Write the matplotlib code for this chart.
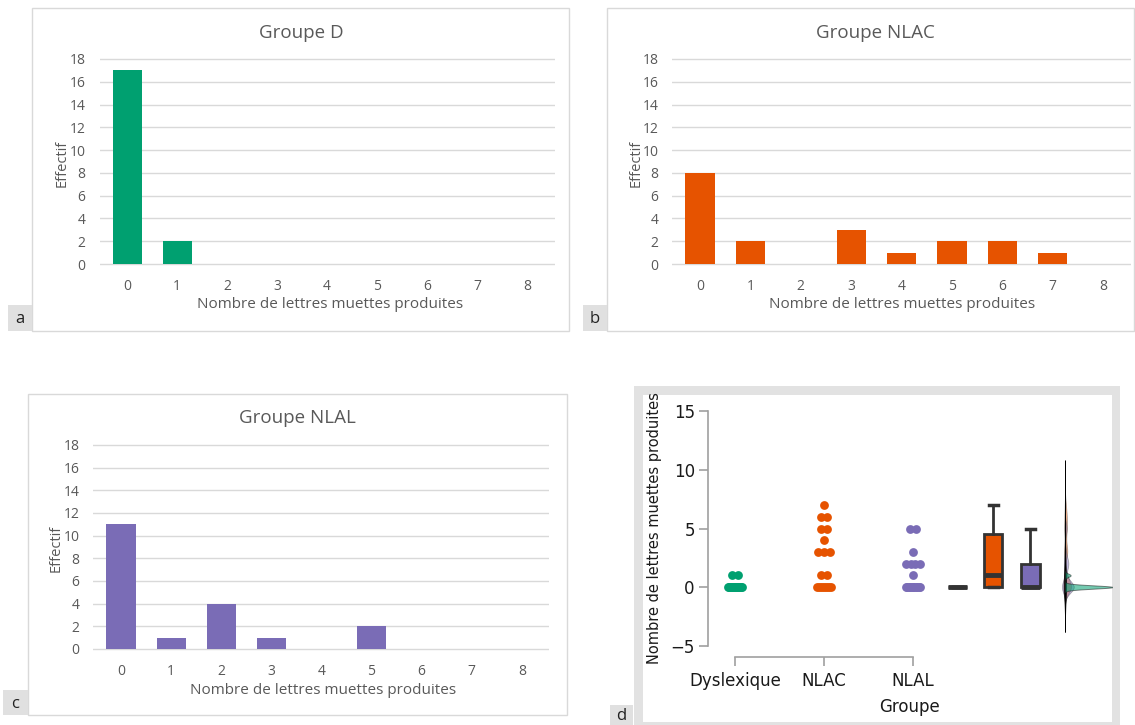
import numpy as np
import matplotlib
matplotlib.use("Agg")
import matplotlib.pyplot as plt
from matplotlib.patches import Rectangle

# ---------------- data ----------------
values = [0, 1, 2, 3, 4, 5, 6, 7, 8]
count_D = [17, 2, 0, 0, 0, 0, 0, 0, 0]
count_NLAC = [8, 2, 0, 3, 1, 2, 2, 1, 0]
count_NLAL = [11, 1, 4, 1, 0, 2, 0, 0, 0]
groups = ["Dyslexique", "NLAC", "NLAL"]
hist_titles = ["Groupe D", "Groupe NLAC", "Groupe NLAL"]
panel_letters = ["a", "b", "c", "d"]
yticks_hist = [0, 2, 4, 6, 8, 10, 12, 14, 16, 18]
yticks_d = [-5, 0, 5, 10, 15]
xlabel_hist = "Nombre de lettres muettes produites"
ylabel_hist = "Effectif"
xlabel_d = "Groupe"
ylabel_d = "Nombre de lettres muettes produites"

colors = ["#00a070", "#e65300", "#7a6cb6"]
all_counts = [count_D, count_NLAC, count_NLAL]

# ---------------- figure ----------------
W, H = 1135, 725
fig = plt.figure(figsize=(W / 100, H / 100), dpi=100)
fig.patch.set_facecolor("white")

HFONT = ["Open Sans", "DejaVu Sans"]
DFONT = ["DejaVu Sans"]
TXT = "#595959"


def axes_px(x0, y0, x1, y1, **kw):
    return fig.add_axes([x0 / W, 1 - y1 / H, (x1 - x0) / W, (y1 - y0) / H], **kw)


def rect_px(x0, y0, x1, y1, **kw):
    r = Rectangle((x0 / W, 1 - y1 / H), (x1 - x0) / W, (y1 - y0) / H,
                  transform=fig.transFigure, **kw)
    fig.add_artist(r)
    return r


def text_px(x, y, s, **kw):
    fig.text(x / W, 1 - y / H, s, **kw)


hist_layout = [
    dict(frame=(32, 8, 569, 331), x0=127, kx=50, y18=59, y0=264,
         title=(301, 33), ylab=(62, 163), xlab=(330, 305), lbox=(8, 305, 32, 331)),
    dict(frame=(607, 8, 1134, 331), x0=700, kx=50.4, y18=59, y0=264,
         title=(875, 33), ylab=(636, 163), xlab=(902, 305), lbox=(583, 305, 607, 331)),
    dict(frame=(28, 394, 567, 715), x0=121, kx=50.1, y18=445, y0=649,
         title=(297, 418), ylab=(56, 548), xlab=(323, 690), lbox=(3, 690, 28, 715)),
]

for i, L in enumerate(hist_layout):
    fx0, fy0, fx1, fy1 = L["frame"]
    rect_px(fx0, fy0, fx1, fy1, facecolor="white", edgecolor="#d9d9d9", lw=1.0, zorder=0)
    lx0, ly0, lx1, ly1 = L["lbox"]
    rect_px(lx0, ly0, lx1, ly1, facecolor="#e0e0e0", edgecolor="none", zorder=1)
    text_px((lx0 + lx1) / 2, (ly0 + ly1) / 2 + 1, panel_letters[i], ha="center", va="center",
            fontsize=12, color="#222222", family=HFONT)

    ky = (L["y0"] - L["y18"]) / 18.0
    xlo, xhi = -0.55, 8.55
    ylo, yhi = -0.25, 18.25
    ax = axes_px(L["x0"] + xlo * L["kx"], L["y18"] - (yhi - 18) * ky,
                 L["x0"] + xhi * L["kx"], L["y0"] - ylo * ky)
    ax.set_facecolor("none")
    ax.bar(values, all_counts[i], width=0.58, color=colors[i], zorder=3)
    ax.set_xlim(xlo, xhi)
    ax.set_ylim(ylo, yhi)
    ax.set_yticks(yticks_hist)
    ax.set_xticks(values)
    for s in ax.spines.values():
        s.set_visible(False)
    ax.yaxis.grid(True, color="#d9d9d9", lw=1.0, zorder=0)
    ax.set_axisbelow(True)
    ax.tick_params(length=0, labelsize=10, labelcolor=TXT)
    ax.tick_params(axis="y", pad=10)
    ax.tick_params(axis="x", pad=9)
    for lab in ax.get_xticklabels() + ax.get_yticklabels():
        lab.set_family(HFONT)
    text_px(L["title"][0], L["title"][1], hist_titles[i], ha="center", va="center",
            fontsize=13.5, color=TXT, family=HFONT)
    text_px(L["ylab"][0], L["ylab"][1], ylabel_hist, ha="center", va="center",
            rotation=90, fontsize=10.5, color=TXT, family=HFONT)
    text_px(L["xlab"][0], L["xlab"][1], xlabel_hist, ha="center", va="center",
            fontsize=11, color=TXT, family=HFONT)

# ---------------- panel d ----------------
rect_px(634, 386, 1120, 740, facecolor="#e2e2e2", edgecolor="none", zorder=0)
rect_px(643, 395, 1112, 722, facecolor="white", edgecolor="none", zorder=0)
rect_px(610, 705, 633, 725, facecolor="#e0e0e0", edgecolor="none", zorder=1)
text_px(621.5, 716, panel_letters[3], ha="center", va="center",
        fontsize=12, color="#222222", family=HFONT)

axd = axes_px(708, 400, 1112, 657)
axd.set_facecolor("none")
axd.set_xlim(-0.303, 4.236)
axd.set_ylim(-5.98, 15.98)

raw = [np.repeat(values, c) for c in all_counts]

# dot plot
for gi, counts in enumerate(all_counts):
    for v, n in zip(values, counts):
        if n == 0:
            continue
        span = min((n - 1) * 0.07, 0.16)
        offs = np.linspace(-span / 2, span / 2, n)
        axd.scatter(gi + offs, np.full(n, v), s=40, color=colors[gi], lw=0, zorder=3)

# box plots
box_pos = [2.5, 2.9, 3.32]
dark = "#333333"
bp = axd.boxplot(raw, positions=box_pos, widths=0.21, patch_artist=True,
                 showfliers=False, whis=1.5, capwidths=0.1, manage_ticks=False,
                 boxprops=dict(edgecolor=dark, lw=2.0),
                 medianprops=dict(color=dark, lw=3.5),
                 whiskerprops=dict(color=dark, lw=2.0),
                 capprops=dict(color=dark, lw=2.5))
for patch, c in zip(bp["boxes"], colors):
    patch.set_facecolor(c)


def kde(data, grid, bw):
    data = np.asarray(data, float)
    z = (grid[:, None] - data[None, :]) / bw
    return np.exp(-0.5 * z ** 2).sum(1) / (len(data) * bw * np.sqrt(2 * np.pi))


vc = 3.708
bws = [0.14, 0.55, 0.5]
scale = 0.21
for gi in [1, 2]:
    b = bws[gi]
    gg = np.linspace(raw[gi].min() - 3 * b, raw[gi].max() + 3 * b, 400)
    dd = kde(raw[gi], gg, b) * scale
    axd.fill_betweenx(gg, vc - dd * 0.35, vc + dd, facecolor=colors[gi], alpha=0.45,
                      edgecolor="#444444", lw=0.5, zorder=4)

alld = np.concatenate(raw)
bw_all = 1.28
g = np.linspace(alld.min() - 3 * bw_all, alld.max() + 3 * bw_all, 400)
d = kde(alld, g, bw_all)
hw = d / d.max() * 0.011
axd.fill_betweenx(g, vc - hw, vc + hw, color="black", lw=0.5, zorder=5)

b = bws[0]
gg = np.linspace(raw[0].min() - 3 * b, raw[0].max() + 3 * b, 400)
dd = kde(raw[0], gg, b) * scale
axd.fill_betweenx(gg, vc, vc + dd, facecolor=colors[0], alpha=0.55,
                  edgecolor="#222222", lw=0.7, zorder=6)

for s in ["top", "right"]:
    axd.spines[s].set_visible(False)
axd.spines["left"].set_bounds(-5, 15)
axd.spines["bottom"].set_bounds(0, 2)
for s in ["left", "bottom"]:
    axd.spines[s].set_color("#a0a0a0")
    axd.spines[s].set_linewidth(1.2)
axd.set_yticks(yticks_d)
axd.set_xticks([0, 1, 2])
axd.set_xticklabels(groups)
axd.tick_params(length=6.5, width=1.2, color="#a0a0a0", labelsize=12,
                labelcolor="#1a1a1a")
axd.tick_params(axis="y", pad=3)
axd.tick_params(axis="x", pad=4)
for lab in axd.get_xticklabels() + axd.get_yticklabels():
    lab.set_family(DFONT)
axd.set_xlabel(xlabel_d, fontsize=12, color="#1a1a1a", family=DFONT, labelpad=6)
axd.set_ylabel(ylabel_d, fontsize=10.5, color="#1a1a1a", family=DFONT, labelpad=6)

fig.savefig("out.png", dpi=100, facecolor="white")
